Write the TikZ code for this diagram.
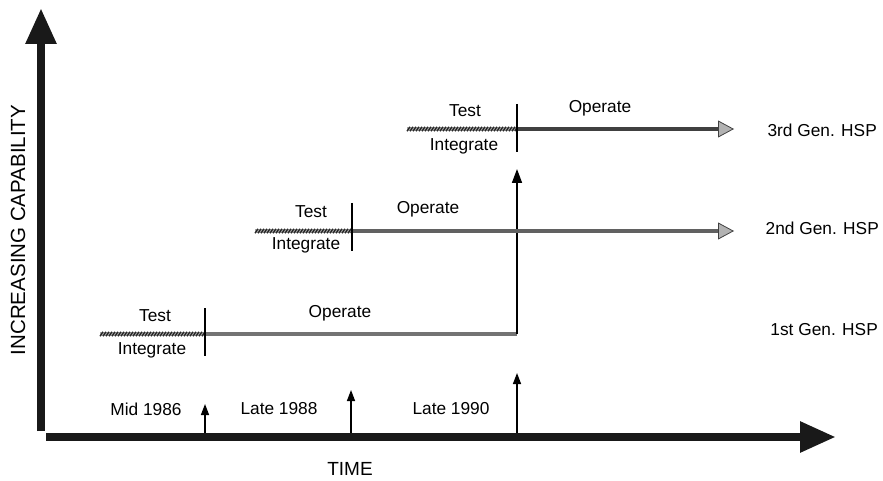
\documentclass[tikz,border=0pt]{standalone}
\usepackage{fontspec}
\setmainfont{Liberation Sans}
\usetikzlibrary{arrows.meta}
\newcommand{\hatchbar}[3]{% x1, x2, y
  \fill[black!35] (#1,{#3-2.2}) rectangle (#2,{#3+2.2});
  \pgfmathsetmacro{\hxsecond}{#1+3}
  \foreach \hx in {#1,\hxsecond,...,#2}{
    \pgfmathsetmacro{\hxe}{min(\hx+3,#2)}
    \draw[black!85,line width=1.3pt] (\hx,{#3+2.2}) -- (\hxe,{#3-2.2});
  }
}
\begin{document}
\begin{tikzpicture}[x=1pt,y=-1pt,
  lbl/.style={font=\fontsize{17.3}{19}\selectfont, inner sep=0pt},
  bigaxis/.style={line width=8.5pt, black!90},
  oparrow/.style={line width=4pt, black!62, -{Triangle[length=16pt,width=17pt,fill=black!30,color=black!75,line width=0.8pt]}},
  opline/.style={line width=4pt, black!55},
  tickline/.style={line width=1.2pt, black},
  smallarrow/.style={line width=1.4pt, black, -{Triangle[length=11pt,width=8pt]}},
  uparrow/.style={line width=1.6pt, black, -{Triangle[length=14pt,width=10pt]}}]
\useasboundingbox (0,0) rectangle (883,481);

% axes
\coordinate (yb) at (41,431);
\coordinate (yt) at (41,8);
\coordinate (xl) at (46,437);
\coordinate (xr) at (836,437);
\draw[bigaxis, -{Triangle[length=36pt,width=29pt]}] (yb) -- (yt);
\draw[bigaxis, -{Triangle[length=36pt,width=29pt]}] (xl) -- (xr);
\node[lbl, font=\fontsize{20.5}{22}\selectfont, rotate=90] (ylab) at (18,230) {INCREASING CAPABILITY};
\node[lbl, font=\fontsize{19}{21}\selectfont] (tlab) at (350,469) {TIME};

% milestone arrows
\coordinate (m1b) at (205,433); \coordinate (m1t) at (205,404);
\coordinate (m2b) at (351,433); \coordinate (m2t) at (351,390);
\coordinate (m3b) at (517,433); \coordinate (m3t) at (517,373);
\draw[smallarrow] (m1b) -- (m1t);
\draw[smallarrow] (m2b) -- (m2t);
\draw[smallarrow] (m3b) -- (m3t);
\node[lbl] (d1) at (146,409) {Mid 1986};
\node[lbl] (d2) at (279,409) {Late 1988};
\node[lbl] (d3) at (451,409) {Late 1990};

% 1st generation
\hatchbar{100}{205}{334}
\coordinate (g1s) at (205,334);
\coordinate (g1c) at (517,334);
\coordinate (g1t) at (517,169);
\draw[opline] (g1s) -- (g1c);
\draw[uparrow] (g1c) -- (g1t);
\draw[tickline] (205,308) -- (205,356);
\node[lbl] (t1) at (155,316) {Test};
\node[lbl] (i1) at (152,350) {Integrate};
\node[lbl] (o1) at (340,313) {Operate};
\node[lbl, anchor=east] (h1) at (878,330) {1st Gen. HSP};

% 2nd generation
\hatchbar{255}{352}{231}
\coordinate (g2s) at (352,231);
\coordinate (g2e) at (734,231);
\draw[oparrow] (g2s) -- (g2e);
\draw[tickline] (352,203) -- (352,251);
\node[lbl] (t2) at (311,212) {Test};
\node[lbl] (i2) at (306,245) {Integrate};
\node[lbl] (o2) at (428,209) {Operate};
\node[lbl, anchor=east] (h2) at (879,228) {2nd Gen. HSP};

% 3rd generation
\hatchbar{407}{517}{129}
\coordinate (g3s) at (517,129);
\coordinate (g3e) at (734,129);
\draw[oparrow, black!75] (g3s) -- (g3e);
\draw[tickline] (517,104) -- (517,152);
\node[lbl] (t3) at (465,111) {Test};
\node[lbl] (i3) at (464,146) {Integrate};
\node[lbl] (o3) at (600,108) {Operate};
\node[lbl, anchor=east] (h3) at (877,130) {3rd Gen. HSP};
\end{tikzpicture}
\end{document}
